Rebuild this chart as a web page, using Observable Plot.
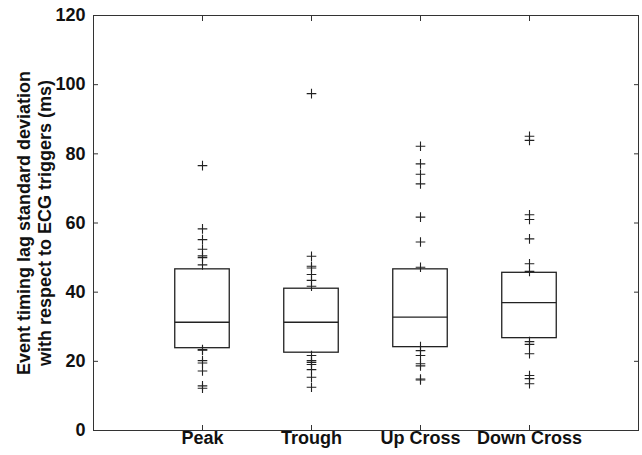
<!DOCTYPE html>
<html><head><meta charset="utf-8">
<script src="https://cdn.jsdelivr.net/npm/d3@7"></script>
<script src="https://cdn.jsdelivr.net/npm/@observablehq/plot@0.6"></script>
<style>
body{margin:0;background:#fff}
svg{font-family:"Liberation Sans",Arial,Helvetica,sans-serif}
</style>
</head><body><div id="chart"></div>
<script>
const categories = ["Peak", "Trough", "Up Cross", "Down Cross"];
const q1 = [23.8, 22.5, 24.1, 26.7];
const medians = [31.3, 31.3, 32.8, 37.0];
const q3 = [46.6, 41.0, 46.6, 45.6];
const outliersPeak = [76.6, 58.3, 55.2, 52.4, 50.5, 50.0, 47.9, 23.4, 23.2, 20.2, 19.5, 17.2, 12.9, 12.2];
const outliersTrough = [97.4, 50.4, 47.5, 47.0, 45.1, 43.4, 41.7, 21.7, 20.2, 19.7, 19.1, 17.6, 15.4, 12.5];
const outliersUpCross = [82.2, 77.1, 74.1, 71.3, 61.7, 54.5, 47.2, 24.3, 23.1, 21.7, 19.3, 18.7, 14.9, 14.6];
const outliersDownCross = [85.1, 83.9, 62.4, 61.0, 55.4, 48.2, 46.0, 25.7, 24.9, 22.2, 15.9, 15.0, 13.5];
const yTicks = [0, 20, 40, 60, 80, 100, 120];
const yLabel = "Event timing lag standard deviation\nwith respect to ECG triggers (ms)";

const outlierLists = [outliersPeak, outliersTrough, outliersUpCross, outliersDownCross];
const boxes = categories.map((c, i) => ({cat: c, pos: i + 1, q1: q1[i], median: medians[i], q3: q3[i]}));
const outliers = outlierLists.flatMap((arr, i) => arr.map(v => ({pos: i + 1, value: v})));
const half = 0.25;
const pos = categories.map((c, i) => i + 1);

const chart = Plot.plot({
  width: 642,
  height: 455,
  marginLeft: 93,
  marginRight: 4,
  marginTop: 15,
  marginBottom: 25,
  style: {fontFamily: "'Liberation Sans', Arial, sans-serif", color: "#111", background: "#fff"},
  x: {domain: [0, 5]},
  y: {domain: [0, 120]},
  marks: [
    Plot.frame({stroke: "#333", strokeWidth: 1}),
    Plot.axisY({anchor: "left", ticks: yTicks, tickSize: -5, text: null, label: null, stroke: "#333"}),
    Plot.axisY({anchor: "right", ticks: yTicks, tickSize: -5, text: null, label: null, stroke: "#333"}),
    Plot.axisY({anchor: "left", ticks: yTicks, tickSize: 0, tickPadding: 8, label: null, fontSize: 18, fontWeight: "bold", fill: "#111"}),
    Plot.axisX({anchor: "bottom", ticks: pos, tickSize: -5, text: null, label: null, stroke: "#333"}),
    Plot.axisX({anchor: "top", ticks: pos, tickSize: -5, text: null, label: null, stroke: "#333"}),
    Plot.axisX({anchor: "bottom", ticks: pos, tickSize: 0, tickPadding: 1, label: null, tickFormat: d => categories[d - 1], fontSize: 18, fontWeight: "bold", fill: "#111"}),
    Plot.text([yLabel], {frameAnchor: "left", textAnchor: "middle", text: d => d, rotate: -90, dx: -60, dy: 0, fontSize: 18, fontWeight: "bold", lineHeight: 1.2, fill: "#111"}),
    Plot.rect(boxes, {x1: d => d.pos - half, x2: d => d.pos + half, y1: "q1", y2: "q3", fill: "none", stroke: "#222", strokeWidth: 1.3}),
    Plot.ruleY(boxes, {y: "median", x1: d => d.pos - half, x2: d => d.pos + half, stroke: "#222", strokeWidth: 1.3}),
    Plot.dot(outliers, {x: "pos", y: "value", symbol: "plus", r: 3.2, stroke: "#222", strokeWidth: 1.1})
  ]
});
document.getElementById("chart").appendChild(chart);
</script>
</body></html>
